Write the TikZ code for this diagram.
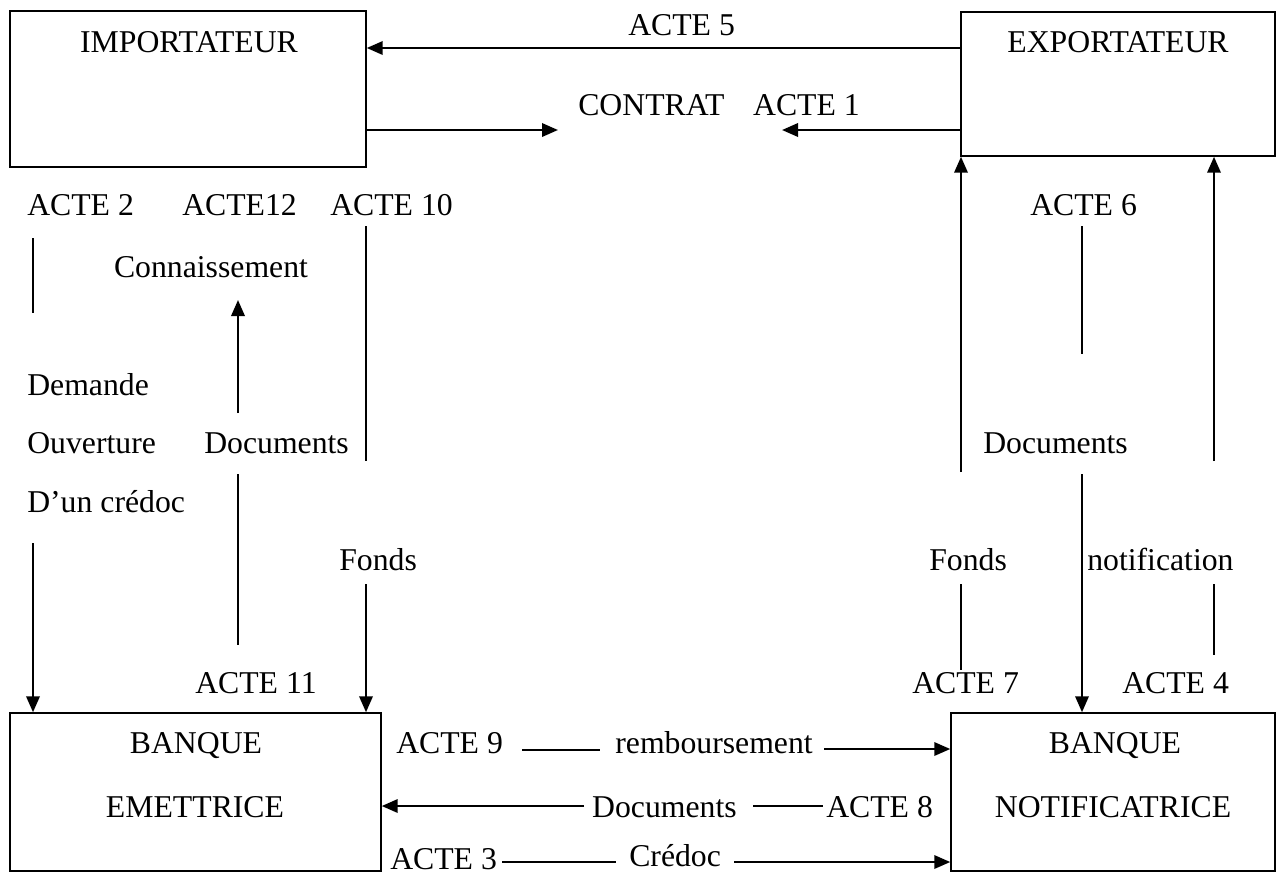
\documentclass[tikz,border=0pt]{standalone}
\usepackage{fontspec}
\setmainfont{Liberation Serif}
\usetikzlibrary{arrows.meta,fit}
\begin{document}
\begin{tikzpicture}[x=0.75pt,y=-0.75pt,
  font=\fontsize{23.8}{28}\selectfont,
  box/.style={draw, line width=1.1pt, inner sep=0pt},
  lbl/.style={inner sep=0pt, anchor=base west},
  lblc/.style={inner sep=0pt, anchor=base},
  lble/.style={inner sep=0pt, anchor=base east},
  flow/.style={line width=1.8pt, -{Triangle[length=12pt,width=10pt]}},
  link/.style={line width=1pt}]
\useasboundingbox (0,0) rectangle (1277,876);

% the four parties
\node[box, fit={(10,11) (366,167)}] (imp) {};
\node[box, fit={(961,12) (1275,156)}] (exp) {};
\node[box, fit={(10,713) (381,871)}] (emet) {};
\node[box, fit={(951,713) (1275,871)}] (notif) {};

\node[lblc] (impT) at (189,52) {IMPORTATEUR};
\node[lblc] (expT) at (1118,52) {EXPORTATEUR};
\node[lblc] (emT1) at (196,753) {BANQUE};
\node[lblc] (emT2) at (195,817) {EMETTRICE};
\node[lblc] (noT1) at (1115,753) {BANQUE};
\node[lblc] (noT2) at (1113,817) {NOTIFICATRICE};

% labels
\node[lbl] (a5) at (628,35) {ACTE 5};
\node[lbl] (contrat) at (578,115) {CONTRAT};
\node[lble] (a1) at (860,115) {ACTE 1};
\node[lbl] (a2) at (27,215) {ACTE 2};
\node[lbl] (a12) at (182,215) {ACTE12};
\node[lbl] (a10) at (330,215) {ACTE 10};
\node[lbl] (a6) at (1030,215) {ACTE 6};
\node[lblc] (conn) at (211,277) {Connaissement};
\node[lbl] (dem1) at (27,395) {Demande};
\node[lbl] (dem2) at (27,453) {Ouverture};
\node[lbl] (dem3) at (27,512) {D’un crédoc};
\node[lbl] (docL) at (204,453) {Documents};
\node[lbl] (docR) at (983,453) {Documents};
\node[lbl] (fdL) at (339,570) {Fonds};
\node[lbl] (fdR) at (929,570) {Fonds};
\node[lbl] (notifT) at (1087,570) {notification};
\node[lbl] (a11) at (195,693) {ACTE 11};
\node[lbl] (a7) at (912,693) {ACTE 7};
\node[lbl] (a4) at (1122,693) {ACTE 4};
\node[lbl] (a9) at (396,753) {ACTE 9};
\node[lble] (remb) at (813,753) {remboursement};
\node[lble] (docB) at (737,817) {Documents};
\node[lbl] (a8) at (826,817) {ACTE 8};
\node[lbl] (a3) at (390,869) {ACTE 3};
\node[lbl] (cred) at (629,866) {Crédoc};

% free ends of the connectors
\coordinate (y5) at (0,48);
\coordinate (c1) at (558,130);
\coordinate (c2) at (782,130);
\coordinate (p2a) at (33,238);   \coordinate (p2b) at (33,313);
\coordinate (pc0) at (238,413);  \coordinate (pc1) at (238,300);
\coordinate (p10a) at (366,226); \coordinate (p10b) at (366,461);
\coordinate (pda) at (238,474);  \coordinate (pdb) at (238,645);
\coordinate (pdem) at (33,543);
\coordinate (pfl) at (366,584);
\coordinate (pfr) at (961,472);
\coordinate (pnr) at (1214,461);
\coordinate (p6a) at (1082,226); \coordinate (p6b) at (1082,354);
\coordinate (pdr) at (1082,474);
\coordinate (pf7a) at (961,584); \coordinate (pf7b) at (961,670);
\coordinate (pn4a) at (1214,584);\coordinate (pn4b) at (1214,655);
\coordinate (p9a) at (522,750);  \coordinate (p9b) at (600,750);
\coordinate (prb) at (824,749);
\coordinate (pdb0) at (584,806);
\coordinate (p8a) at (753,806);  \coordinate (p8b) at (823,806);
\coordinate (p3a) at (502,862);  \coordinate (p3b) at (616,862);
\coordinate (pcr) at (734,862);

% top
\draw[flow] (exp.west |- y5) -- (imp.east |- y5);
\draw[flow] (imp.east |- c1) -- (c1);
\draw[flow] (exp.west |- c2) -- (c2);

% left column
\draw[link] (p2a) -- (p2b);
\draw[flow] (pc0) -- (pc1);
\draw[link] (p10a) -- (p10b);
\draw[link] (pda) -- (pdb);
\draw[flow] (pdem) -- (pdem |- emet.north);
\draw[flow] (pfl) -- (pfl |- emet.north);

% right column
\draw[flow] (pfr) -- (pfr |- exp.south);
\draw[flow] (pnr) -- (pnr |- exp.south);
\draw[link] (p6a) -- (p6b);
\draw[flow] (pdr) -- (pdr |- notif.north);
\draw[link] (pf7a) -- (pf7b);
\draw[link] (pn4a) -- (pn4b);

% between the banks
\draw[link] (p9a) -- (p9b);
\draw[flow] (prb) -- (notif.west |- prb);
\draw[flow] (pdb0) -- (emet.east |- pdb0);
\draw[link] (p8a) -- (p8b);
\draw[link] (p3a) -- (p3b);
\draw[flow] (pcr) -- (notif.west |- pcr);
\end{tikzpicture}
\end{document}
